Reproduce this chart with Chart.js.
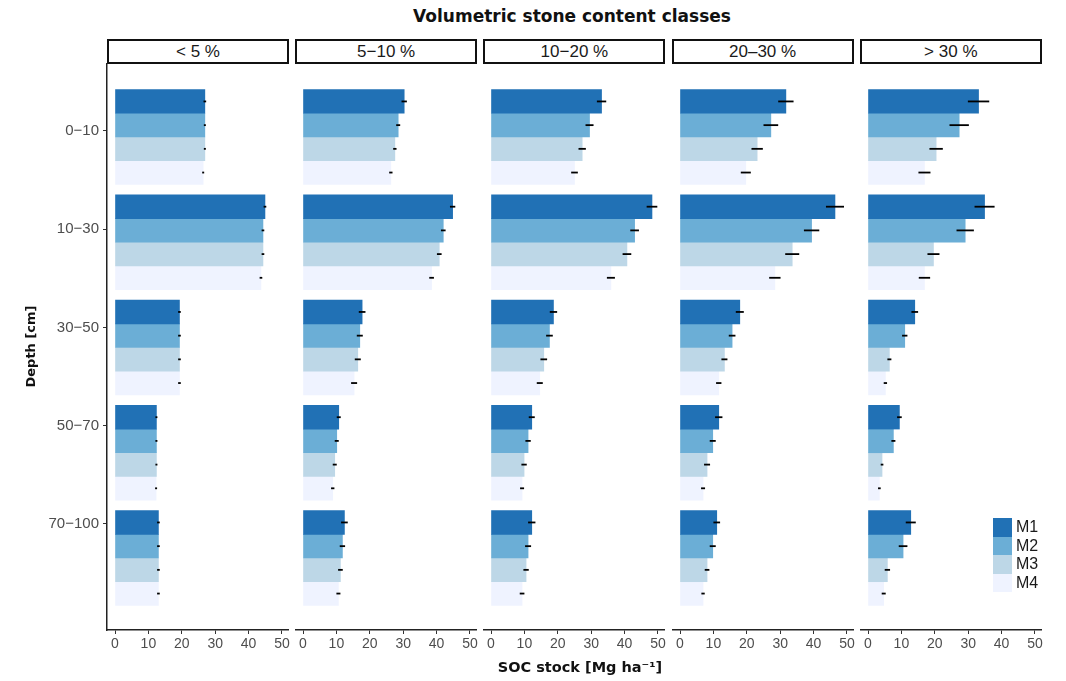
<!DOCTYPE html>
<html>
<head>
<meta charset="utf-8">
<script src="https://cdn.jsdelivr.net/npm/chart.js@4"></script>
<style>
  body { margin: 0; background: #fff; width: 1066px; height: 681px; position: relative; overflow: hidden;
         font-family: "Liberation Sans", Arial, sans-serif; }
  canvas { position: absolute; top: 63px; }
  .strip { position: absolute; top: 39px; height: 21px; box-sizing: content-box; border: 2px solid #111;
           background: #fff; text-align: center; font-size: 17px; line-height: 21px; color: #1a1a1a; }
  #title { position: absolute; left: 322px; width: 500px; top: 6px; text-align: center;
           font: bold 17px "DejaVu Sans", sans-serif; color: #111; }
  #xtitle { position: absolute; left: 380px; width: 400px; top: 659px; text-align: center;
            font: bold 14.5px "DejaVu Sans", sans-serif; color: #111; }
  #legend { position: absolute; left: 993px; top: 518px; }
  .key { height: 18.5px; display: flex; align-items: center; }
  .key span.box { width: 19px; height: 18.5px; display: inline-block; }
  .key span.lab { margin-left: 4px; font-size: 16px; color: #1a1a1a; }
</style>
</head>
<body>
<div id="title">Volumetric stone content classes</div>
<div id="strips"></div>
<canvas id="p0" width="292" height="617" style="left:0px"></canvas>
<canvas id="p1" width="186" height="617"></canvas>
<canvas id="p2" width="186" height="617"></canvas>
<canvas id="p3" width="186" height="617"></canvas>
<canvas id="p4" width="186" height="617"></canvas>
<div id="xtitle">SOC stock [Mg ha⁻¹]</div>
<div id="legend"></div>
<script>
var depths = ['0\u221210', '10\u221230', '30\u221250', '50\u221270', '70\u2212100'];
var stoneClasses = ['< 5 %', '5\u221210 %', '10\u221220 %', '20\u201330 %', '> 30 %'];
var methods = ['M1', 'M2', 'M3', 'M4'];
var colors = ['#2171b5', '#6baed6', '#bdd7e7', '#eff3ff'];
var xTicks = [0, 10, 20, 30, 40, 50];

// SOC stock, one row per stone class, values by depth
var socM1 = [[26.9, 44.9, 19.3, 12.4, 13.0], [30.3, 44.8, 17.7, 10.7, 12.4], [33.1, 48.2, 18.7, 12.2, 12.2], [31.7, 46.4, 17.9, 11.6, 11.0], [33.1, 34.9, 14.0, 9.4, 12.8]];
var socM2 = [[26.9, 44.3, 19.3, 12.4, 13.0], [28.5, 42.0, 17.0, 10.1, 11.8], [29.5, 43.0, 17.5, 11.1, 11.1], [27.2, 39.4, 15.6, 9.8, 9.8], [27.3, 29.1, 11.0, 7.6, 10.5]];
var socM3 = [[26.9, 44.3, 19.3, 12.4, 13.0], [27.5, 40.8, 16.4, 9.5, 11.2], [27.3, 40.7, 15.8, 9.9, 10.5], [23.1, 33.6, 13.3, 8.1, 8.1], [20.4, 19.6, 6.4, 4.2, 5.8]];
var socM4 = [[26.4, 43.7, 19.3, 12.3, 13.0], [26.3, 38.5, 15.3, 8.9, 10.6], [25.0, 35.9, 14.6, 9.3, 9.3], [19.7, 28.4, 11.6, 6.9, 6.9], [16.9, 16.9, 5.2, 3.4, 4.7]];

// standard errors, same layout
var errM1 = [[0.4, 0.4, 0.4, 0.3, 0.4], [0.8, 0.8, 1.0, 0.6, 1.0], [1.4, 1.6, 1.1, 0.9, 1.1], [2.3, 2.7, 1.2, 1.1, 1.0], [3.2, 3.0, 1.0, 0.7, 1.5]];
var errM2 = [[0.3, 0.4, 0.4, 0.3, 0.4], [0.6, 0.7, 0.9, 0.6, 0.8], [1.2, 1.3, 1.0, 0.8, 0.9], [2.2, 2.3, 1.0, 0.9, 0.9], [2.9, 2.6, 0.8, 0.6, 1.3]];
var errM3 = [[0.3, 0.4, 0.4, 0.3, 0.4], [0.5, 0.7, 0.9, 0.6, 0.7], [1.1, 1.3, 1.0, 0.8, 0.8], [1.7, 2.1, 0.9, 0.9, 0.7], [2.0, 1.8, 0.6, 0.4, 0.8]];
var errM4 = [[0.3, 0.4, 0.4, 0.3, 0.4], [0.5, 0.7, 0.9, 0.5, 0.6], [1.0, 1.2, 0.9, 0.6, 0.7], [1.5, 1.7, 0.8, 0.6, 0.5], [1.8, 1.7, 0.5, 0.4, 0.6]];

var socAll = [socM1, socM2, socM3, socM4];
var errAll = [errM1, errM2, errM3, errM4];

var panelLeft0 = 107, panelStep = 188.2, panelWidth = 181;

Chart.defaults.font.family = '"Liberation Sans", Arial, sans-serif';
Chart.defaults.color = '#4d4d4d';

var errorBars = {
  id: 'errorBars',
  afterDatasetsDraw: function(chart) {
    var ctx = chart.ctx;
    var xs = chart.scales.x;
    ctx.save();
    ctx.strokeStyle = '#000';
    ctx.lineWidth = 1.8;
    chart.data.datasets.forEach(function(ds, di) {
      chart.getDatasetMeta(di).data.forEach(function(bar, i) {
        var v = ds.data[i].x, e = ds.err[i];
        ctx.beginPath();
        ctx.moveTo(xs.getPixelForValue(v - e), bar.y);
        ctx.lineTo(xs.getPixelForValue(v + e), bar.y);
        ctx.stroke();
      });
    });
    ctx.restore();
  }
};

function depthTicks(s) {
  s.ticks = depths.map(function(d, i) { return {value: i}; });
}

function makePanel(p) {
  var first = p === 0;
  var canvas = document.getElementById('p' + p);
  if (!first) canvas.style.left = (panelLeft0 + p * panelStep) + 'px';

  var strip = document.createElement('div');
  strip.className = 'strip';
  strip.style.left = (panelLeft0 + p * panelStep) + 'px';
  strip.style.width = (panelWidth - 3) + 'px';
  strip.textContent = stoneClasses[p];
  document.getElementById('strips').appendChild(strip);

  var datasets = methods.map(function(m, k) {
    return {
      label: m,
      data: socAll[k][p].map(function(v, i) { return {x: v, y: i}; }),
      err: errAll[k][p],
      backgroundColor: colors[k],
      borderWidth: 0,
      barThickness: 23.7,
      yAxisID: 'y'
    };
  });

  var scales = {
    x: {
      type: 'linear', min: -2.4, max: 51.8, offset: false,
      afterBuildTicks: function(s) { s.ticks = xTicks.map(function(v) { return {value: v}; }); },
      afterFit: function(s) { s.height = 50; },
      grid: { offset: false, drawOnChartArea: false, drawTicks: true, tickLength: 4, color: '#333' },
      border: { display: true, color: '#222', width: 1.5 },
      ticks: { color: '#4d4d4d', font: { size: 14 }, padding: 2, maxRotation: 0, autoSkip: false }
    },
    y: {
      type: 'linear', display: false, reverse: true, min: -0.703, max: 4.684,
      offset: false, grid: { offset: false },
      afterBuildTicks: depthTicks
    }
  };
  if (first) {
    scales.yl = {
      type: 'linear', position: 'left', reverse: true, min: -0.692, max: 5.079,
      offset: false,
      afterBuildTicks: depthTicks,
      afterFit: function(s) { s.width = 107; s.paddingTop = 0; s.paddingBottom = 0; },
      grid: { offset: false, drawOnChartArea: false, drawTicks: true, tickLength: 4, color: '#333' },
      border: { display: true, color: '#222', width: 1.5 },
      ticks: { color: '#4d4d4d', font: { size: 15 }, padding: 4,
               callback: function(v) { return depths[v]; } },
      title: { display: true, text: 'Depth [cm]', color: '#111',
               font: { family: '"DejaVu Sans", sans-serif', weight: 'bold', size: 13 },
               padding: { top: 24, bottom: 0 } }
    };
  }

  return new Chart(canvas, {
    type: 'bar',
    data: { datasets: datasets },
    options: {
      indexAxis: 'y',
      responsive: false,
      animation: false,
      layout: { padding: { left: 0, right: first ? 4 : 5, top: 0, bottom: 0 } },
      scales: scales,
      plugins: { legend: { display: false }, tooltip: { enabled: false } }
    },
    plugins: [errorBars]
  });
}

var charts = [];
for (var p = 0; p < stoneClasses.length; p++) charts.push(makePanel(p));

// legend built from the last panel's datasets
var legend = document.getElementById('legend');
charts[4].data.datasets.forEach(function(ds) {
  var row = document.createElement('div');
  row.className = 'key';
  row.innerHTML = '<span class="box" style="background:' + ds.backgroundColor + '"></span><span class="lab">' + ds.label + '</span>';
  legend.appendChild(row);
});
</script>
</body>
</html>
